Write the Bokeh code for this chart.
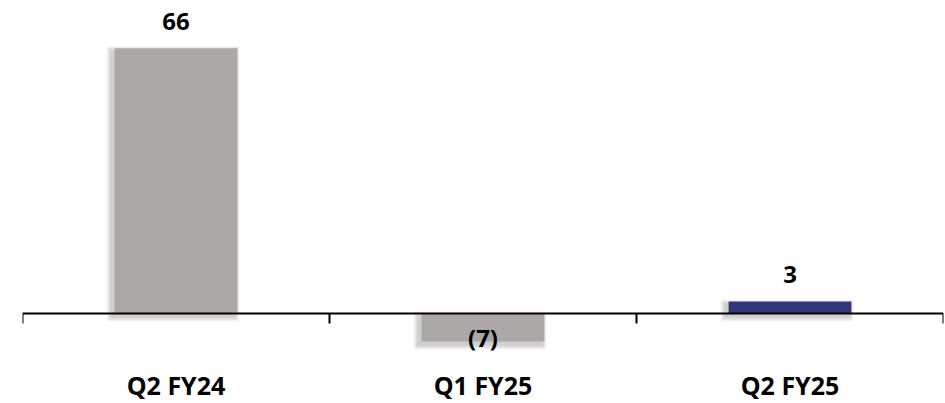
from bokeh.plotting import figure
from bokeh.models import Range1d, LinearAxis, FixedTicker, ColumnDataSource
from bokeh.core.properties import value
from bokeh.embed import file_html
from bokeh.resources import INLINE

categories = ["Q2 FY24", "Q1 FY25", "Q2 FY25"]
values = [66, -7, 3]
value_labels = ["66", "(7)", "3"]
colors = ["#ABA8A7", "#ABA8A7", "#31367A"]

W, H = 944, 403
ML, MR, MT = 22, 1, 8
y0, y1 = -22.4, 75.9
n = len(categories)
px_x = (W - ML - MR) / n
px_y = (H - MT) / (y1 - y0)
bar_w = 0.4

xs = [i + 0.5 for i in range(n)]

p = figure(width=W, height=H, x_range=Range1d(0, n), y_range=Range1d(y0, y1),
           output_backend="svg", toolbar_location=None,
           x_axis_location=None, y_axis_location=None,
           min_border_left=ML, min_border_right=MR, min_border_top=MT, min_border_bottom=0)
p.outline_line_color = None
p.grid.visible = False
p.background_fill_color = "white"
p.border_fill_color = "white"

# soft shadow layers
for k in range(1, 6):
    e = k * 1.0
    dx, dy = -3, 3
    left = [x - bar_w / 2 + (dx - e) / px_x for x in xs]
    right = [x + bar_w / 2 + (dx + e) / px_x for x in xs]
    top = [max(v, 0) - (dy - e) / px_y for v in values]
    bottom = [min(v, 0) - (dy + e) / px_y for v in values]
    p.quad(left=left, right=right, top=top, bottom=bottom,
           fill_color="black", fill_alpha=0.04, line_color=None)

src = ColumnDataSource(dict(x=xs, top=values, color=colors, label=value_labels,
                            off=[-27 if v >= 0 else -4 for v in values]))
p.vbar(x="x", top="top", bottom=0, width=bar_w, fill_color="color", line_color=None, source=src)

p.text(x="x", y="top", text="label", y_offset="off", source=src,
       text_align="center", text_baseline="middle",
       text_font=value("Open Sans"), text_font_style="bold", text_font_size="24px",
       text_color="black")

ticks = list(range(n + 1))
ax = LinearAxis(fixed_location=0, ticker=FixedTicker(ticks=ticks),
                major_tick_in=0, major_tick_out=10, minor_tick_line_color=None,
                major_label_overrides={t: "" for t in ticks}, major_label_standoff=0,
                axis_line_width=2, major_tick_line_width=2,
                axis_line_color="black", major_tick_line_color="black")
p.add_layout(ax, "below")

cat_y = -(384 - MT - (H - MT - (0 - y0) * px_y)) / px_y
p.text(x=xs, y=[cat_y] * n, text=categories, text_align="center", text_baseline="middle",
       text_font=value("Open Sans"), text_font_style="bold", text_font_size="25px",
       text_color="black")

open("out.html", "w").write(file_html(p, INLINE))
